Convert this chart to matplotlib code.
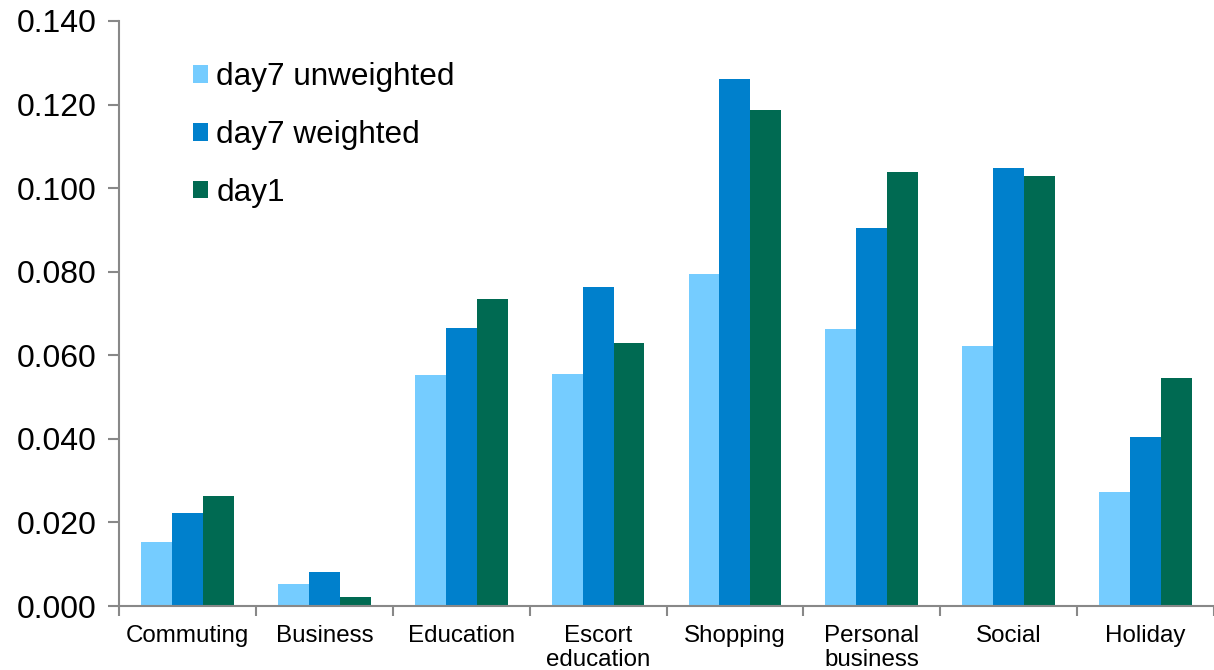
import matplotlib
matplotlib.use("Agg")
import matplotlib.pyplot as plt
import numpy as np

plt.rcParams['font.family'] = ['Liberation Sans', 'DejaVu Sans']

# Data
categories = ['Commuting', 'Business', 'Education', 'Escort\neducation', 'Shopping',
              'Personal\nbusiness', 'Social', 'Holiday']
day7_unweighted = [0.0153, 0.0053, 0.0553, 0.0555, 0.0794, 0.0663, 0.0622, 0.0273]
day7_weighted = [0.0223, 0.0081, 0.0665, 0.0763, 0.1261, 0.0905, 0.1048, 0.0404]
day1 = [0.0263, 0.0022, 0.0735, 0.0629, 0.1187, 0.1039, 0.1029, 0.0546]
series_names = ['day7 unweighted', 'day7 weighted', 'day1']
yticks = [0.000, 0.020, 0.040, 0.060, 0.080, 0.100, 0.120, 0.140]

colors = ['#75CCFF', '#0080CC', '#006A52']

fig = plt.figure(figsize=(12.14, 6.70), dpi=100)
ax = fig.add_axes([119 / 1214, 64 / 670, 1 - 119 / 1214, 585 / 670])

x = np.arange(len(categories))
w = 0.226
for i, (vals, name) in enumerate(zip([day7_unweighted, day7_weighted, day1], series_names)):
    ax.bar(x + (i - 1) * w, vals, width=w, color=colors[i], label=name, zorder=2)

ax.set_xlim(-0.5, len(categories) - 0.5)
ax.set_ylim(0, 0.140)

ax.set_yticks(yticks)
ax.set_yticklabels(['%.3f' % t for t in yticks], fontsize=23)
ax.tick_params(axis='y', direction='out', length=8, width=1.5, color='#888888', pad=8)

ax.set_xticks(x)
ax.set_xticklabels(categories, fontsize=17.4, linespacing=1.12)
ax.tick_params(axis='x', which='major', length=0, pad=14)
ax.set_xticks(np.arange(len(categories) + 1) - 0.5, minor=True)
ax.tick_params(axis='x', which='minor', direction='out', length=7, width=1.5, color='#888888')

for s in ['top', 'right']:
    ax.spines[s].set_visible(False)
for s in ['left', 'bottom']:
    ax.spines[s].set_color('#888888')
    ax.spines[s].set_linewidth(1.5)

ax.legend(loc='upper left', bbox_to_anchor=(0.042, 0.978), frameon=False, fontsize=22.7,
          handlelength=0.48, handleheight=0.48, handletextpad=0.25, labelspacing=0.88)

fig.savefig('out.png', dpi=100)
